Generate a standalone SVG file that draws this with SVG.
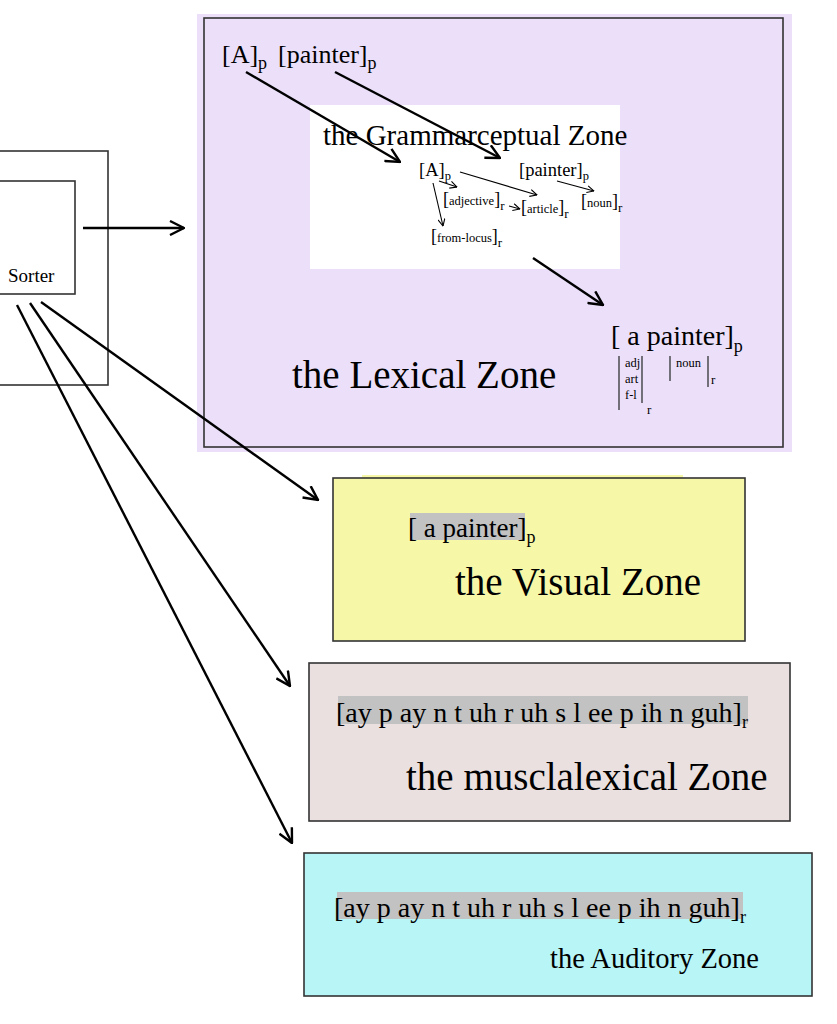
<svg xmlns="http://www.w3.org/2000/svg" width="837" height="1024" viewBox="0 0 837 1024">
<style>
text{font-family:"Liberation Serif","Times New Roman",serif;fill:#000}
.box{stroke:#333;stroke-width:1.6}
.big{stroke:#000;stroke-width:2.4;fill:none}
.thin{stroke:#000;stroke-width:1.1;fill:none}
.bar{stroke:#333;stroke-width:1.3}
.hl{fill:#c2c2c2}
</style>
<defs>
<marker id="ah" viewBox="0 0 16 16" refX="15" refY="8" markerWidth="16" markerHeight="16" markerUnits="userSpaceOnUse" orient="auto">
<path d="M1,1 L15,8 L1,15" fill="none" stroke="#000" stroke-width="2.4"/>
</marker>
<marker id="ahs" viewBox="0 0 8 8" refX="7.5" refY="4" markerWidth="8" markerHeight="8" markerUnits="userSpaceOnUse" orient="auto">
<path d="M0.5,0.5 L7.5,4 L0.5,7.5" fill="none" stroke="#000" stroke-width="1.1"/>
</marker>
</defs>
<rect width="837" height="1024" fill="#fff"/>

<g id="sorter">
<rect class="box" x="-2" y="151" width="110" height="234" fill="#fff"/>
<rect class="box" x="-2" y="181" width="77" height="113" fill="#fff"/>
<text x="8" y="282" font-size="19">Sorter</text>
</g>

<g id="lexical-zone">
<rect x="197" y="14" width="595" height="438" fill="#ebdffa"/>
<rect class="box" x="204" y="18" width="579" height="429" fill="#ebdffa"/>
<text x="222" y="63" font-size="26">[A]<tspan dy="6" font-size="18">p</tspan></text>
<text x="278" y="63" font-size="26">[painter]<tspan dy="6" font-size="18">p</tspan></text>
<text x="292" y="388" font-size="39">the Lexical Zone</text>
<text x="611" y="345" font-size="28">[ a painter]<tspan dy="7" font-size="18">p</tspan></text>
<line class="bar" x1="619" y1="356" x2="619" y2="410"/>
<line class="bar" x1="642" y1="356" x2="642" y2="403"/>
<text x="625" y="367" font-size="12.5">adj</text>
<text x="625" y="383" font-size="12.5">art</text>
<text x="625" y="399" font-size="12.5">f-l</text>
<text x="647" y="414" font-size="13">r</text>
<line class="bar" x1="670" y1="356" x2="670" y2="381"/>
<text x="676" y="367" font-size="12.5">noun</text>
<line class="bar" x1="708" y1="356" x2="708" y2="387"/>
<text x="711" y="384" font-size="13">r</text>
</g>

<g id="grammarceptual-zone">
<rect x="310" y="105" width="310" height="164" fill="#fff"/>
<text x="323" y="145" font-size="29">the Grammarceptual Zone</text>
<text x="419" y="176" font-size="18.5">[A]<tspan dy="4" font-size="12.5">p</tspan></text>
<text x="519" y="176" font-size="18.5">[painter]<tspan dy="4" font-size="12.5">p</tspan></text>
<text x="443" y="205" font-size="12.5"><tspan font-size="18">[</tspan>adjective<tspan font-size="18">]</tspan><tspan dy="5" font-size="13">r</tspan></text>
<text x="521" y="213" font-size="12.5"><tspan font-size="18">[</tspan>article<tspan font-size="18">]</tspan><tspan dy="5" font-size="13">r</tspan></text>
<text x="581" y="207" font-size="12.5"><tspan font-size="18">[</tspan>noun<tspan font-size="18">]</tspan><tspan dy="5" font-size="13">r</tspan></text>
<text x="431" y="242" font-size="12.5"><tspan font-size="18">[</tspan>from-locus<tspan font-size="18">]</tspan><tspan dy="5" font-size="13">r</tspan></text>
</g>

<g id="visual-zone">
<rect x="362" y="475" width="321" height="5" fill="#f7f7a8"/>
<rect class="box" x="333" y="478" width="412" height="163" fill="#f7f7a8"/>
<rect class="hl" x="410" y="513" width="115" height="27"/>
<text x="408" y="537" font-size="27">[ a painter]<tspan dy="6" font-size="18">p</tspan></text>
<text x="455" y="595" font-size="39">the Visual Zone</text>
</g>

<g id="musclalexical-zone">
<rect class="box" x="309" y="663" width="481" height="158" fill="#ebe0e0"/>
<rect class="hl" x="338" y="696" width="410" height="28"/>
<text x="336" y="722" font-size="28">[ay p ay n t uh r uh s l ee p ih n guh]<tspan dy="6" font-size="18">r</tspan></text>
<text x="406" y="790" font-size="39">the musclalexical Zone</text>
</g>

<g id="auditory-zone">
<rect class="box" x="304" y="853" width="508" height="143" fill="#b7f5f7"/>
<rect class="hl" x="337" y="892" width="406" height="27"/>
<text x="334" y="917" font-size="28">[ay p ay n t uh r uh s l ee p ih n guh]<tspan dy="6" font-size="18">r</tspan></text>
<text x="550" y="968" font-size="28.5">the Auditory Zone</text>
</g>

<g id="connectors">
<line class="big" x1="246" y1="72" x2="400" y2="162" marker-end="url(#ah)"/>
<line class="big" x1="335" y1="72" x2="500" y2="158" marker-end="url(#ah)"/>
<line class="big" x1="533" y1="258" x2="603" y2="305" marker-end="url(#ah)"/>
<line class="big" x1="83" y1="228" x2="184" y2="228" marker-end="url(#ah)"/>
<line class="big" x1="41" y1="302" x2="318" y2="500" marker-end="url(#ah)"/>
<line class="big" x1="30" y1="303" x2="290" y2="686" marker-end="url(#ah)"/>
<line class="big" x1="17" y1="305" x2="292" y2="843" marker-end="url(#ah)"/>
<line class="thin" x1="460" y1="172" x2="537" y2="195" marker-end="url(#ahs)"/>
<line class="thin" x1="439" y1="181" x2="457" y2="187" marker-end="url(#ahs)"/>
<line class="thin" x1="433" y1="183" x2="443" y2="226" marker-end="url(#ahs)"/>
<line class="thin" x1="509" y1="206" x2="520" y2="209" marker-end="url(#ahs)"/>
<line class="thin" x1="557" y1="181" x2="594" y2="191" marker-end="url(#ahs)"/>
</g>
</svg>
